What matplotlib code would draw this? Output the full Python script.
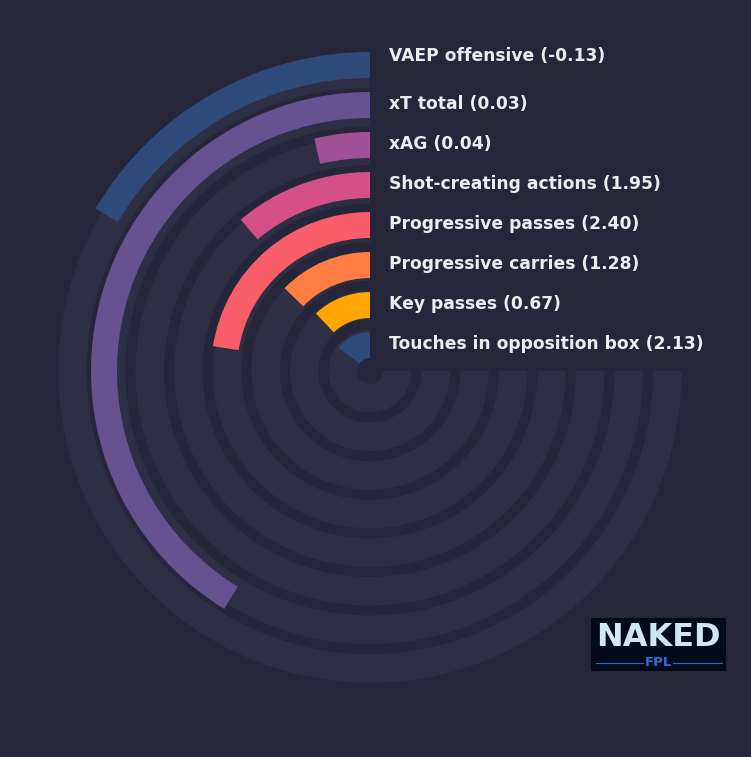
import numpy as np
from matplotlib import pyplot as plt
from matplotlib.patches import Rectangle
from matplotlib.lines import Line2D

# metrics listed from the innermost ring to the outermost one
metrics = ['Touches in opposition box', 'Key passes', 'Progressive carries',
           'Progressive passes', 'Shot-creating actions', 'xAG', 'xT total',
           'VAEP offensive']
values = [2.13, 0.67, 1.28, 2.40, 1.95, 0.04, 0.03, -0.13]
percentiles = [20, 16, 17, 30, 15, 5, 55, 22]
colors = ['#2f4b7c', '#ffa600', '#ff7c43', '#f95d6a', '#d45087', '#a05195',
          '#665191', '#2f4b7c']

BG = '#25263a'
TRACK = '#2e2f44'
W, H = 751, 757
cx, cy, R = 370, 371, 320

fig = plt.figure(figsize=(W / 100, H / 100), dpi=100, facecolor=BG)
ax = fig.add_axes([(cx - R) / W, (H - cy - R) / H, 2 * R / W, 2 * R / H],
                  projection='polar')
ax.set_theta_zero_location('N')
ax.set_theta_direction(1)
ax.set_ylim(0, R)
ax.set_axis_off()

full = 1.5 * np.pi
n = len(metrics)
# background tracks
for i in range(n):
    ax.bar(0, 28.5, width=full, bottom=13 + 38.6 * i, align='edge',
           color=TRACK, linewidth=0)

# value bars
for i in range(n):
    span = full * percentiles[i] / 100
    ax.bar(0, 26, width=span, bottom=13 + 40 * i, align='edge',
           color=colors[i], linewidth=0, zorder=3)
    shift = 8 if i == n - 1 else 0
    ax.annotate(f'{metrics[i]} ({values[i]:.2f})', xy=(0, 26 + 40 * i),
                xytext=(19, 1 + shift), textcoords='offset pixels',
                ha='left', va='center', color='#ececf0', fontsize=12.35,
                fontweight='bold', annotation_clip=False, zorder=5)

# logo box
x0, y0, lw, lh = 591, 618, 135, 53
fig.patches.append(Rectangle((x0 / W, 1 - (y0 + lh) / H), lw / W, lh / H,
                             transform=fig.transFigure, facecolor='#020a1c',
                             edgecolor='none'))
fig.text((x0 + lw / 2) / W, 1 - 638 / H, 'NAKED', ha='center', va='center',
         color='#cfe6f7', fontsize=23, fontweight='bold')
fig.text((x0 + lw / 2) / W, 1 - 662 / H, 'FPL', ha='center', va='center',
         color='#2a72d6', fontsize=9.5, fontweight='bold')
for xa, xb in [(596, 643), (673, 722)]:
    fig.lines.append(Line2D([xa / W, xb / W], [1 - 663 / H, 1 - 663 / H],
                            transform=fig.transFigure, color='#1f6fd0', lw=0.8))

fig.savefig('out.png', dpi=100, facecolor=BG)
